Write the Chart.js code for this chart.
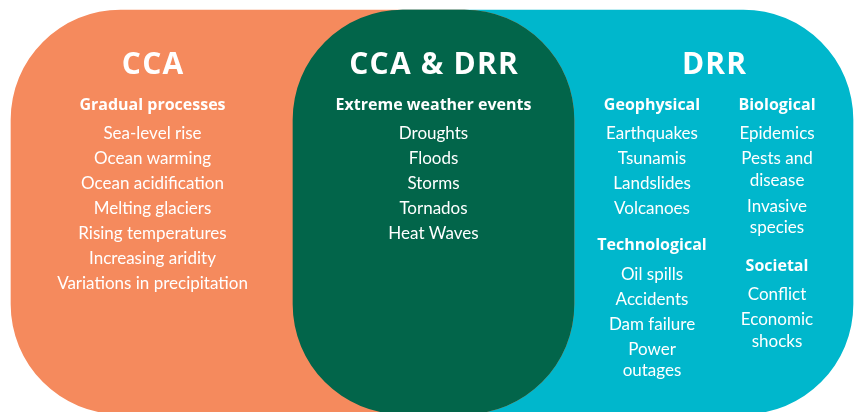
<!DOCTYPE html>
<html>
<head>
<meta charset="utf-8">
<script src="https://cdn.jsdelivr.net/npm/chart.js@4"></script>
<style>
    html, body { margin: 0; padding: 0; background: #ffffff; }
    #wrap { width: 854px; height: 412px; }
</style>
</head>
<body>
<div id="wrap"><canvas id="vennChart" width="854" height="412"></canvas></div>
<script>
// Regions of the diagram (x-extent of each rounded band)
const regions = ['CCA & DRR', 'CCA', 'DRR'];
const regionStart = [293, 11, 293];
const regionEnd = [574, 574, 853];

// Text content
const ccaHeading = 'Gradual processes';
const ccaItems = ['Sea-level rise', 'Ocean warming', 'Ocean acidification', 'Melting glaciers',
    'Rising temperatures', 'Increasing aridity', 'Variations in precipitation'];
const bothHeading = 'Extreme weather events';
const bothItems = ['Droughts', 'Floods', 'Storms', 'Tornados', 'Heat Waves'];
const geophysicalItems = ['Earthquakes', 'Tsunamis', 'Landslides', 'Volcanoes'];
const technologicalItems = ['Oil spills', 'Accidents', 'Dam failure', 'Power\noutages'];
const biologicalItems = ['Epidemics', 'Pests and\ndisease', 'Invasive\nspecies'];
const societalItems = ['Conflict', 'Economic\nshocks'];

// column centres on the x scale
const columns = [
    { title: 'CCA', x: 152.5, sections: [{ heading: ccaHeading, items: ccaItems }] },
    { title: 'CCA & DRR', x: 433.5, sections: [{ heading: bothHeading, items: bothItems }] },
    { title: 'DRR', x: 714, sections: [] },
    { x: 652, sections: [
        { heading: 'Geophysical', items: geophysicalItems },
        { heading: 'Technological', items: technologicalItems }] },
    { x: 777, sections: [
        { heading: 'Biological', items: biologicalItems },
        { heading: 'Societal', items: societalItems }] }
];

const BODY_FONT = 'Lato, sans-serif';
const HEAD_FONT = '"Open Sans", sans-serif';

const vennText = {
    id: 'vennText',
    afterDatasetsDraw(chart) {
        const ctx = chart.ctx;
        const xScale = chart.scales.x;
        ctx.save();
        ctx.fillStyle = '#ffffff';
        ctx.textAlign = 'center';
        ctx.textBaseline = 'alphabetic';
        columns.forEach(col => {
            const px = xScale.getPixelForValue(col.x);
            if (col.title) {
                ctx.font = 'bold 30px ' + HEAD_FONT;
                ctx.letterSpacing = '1.2px';
                ctx.fillText(col.title, px + 0.6, 74);
                ctx.letterSpacing = '0px';
            }
            let y = 110;
            col.sections.forEach((sec, si) => {
                if (si > 0) y += 36 - 25;
                ctx.font = 'bold 16px ' + HEAD_FONT;
                ctx.fillText(sec.heading, px, y);
                y += 29.3;
                ctx.font = '17px ' + BODY_FONT;
                sec.items.forEach(item => {
                    const lines = item.split('\n');
                    lines.forEach((line, li) => {
                        ctx.fillText(line, px, y + li * 21.3);
                    });
                    y += (lines.length - 1) * 21.3 + (lines.length > 1 ? 26.5 : 25);
                });
            });
        });
        ctx.restore();
    }
};

const radius = { topLeft: 110, topRight: 110, bottomLeft: 110, bottomRight: 110 };

new Chart(document.getElementById('vennChart'), {
    type: 'bar',
    data: {
        labels: [''],
        datasets: [
            { label: regions[0], data: [[regionStart[0], regionEnd[0]]], backgroundColor: '#02654A' },
            { label: regions[1], data: [[regionStart[1], regionEnd[1]]], backgroundColor: '#F58A5D' },
            { label: regions[2], data: [[regionStart[2], regionEnd[2]]], backgroundColor: '#00B7CC' }
        ].map(d => Object.assign(d, {
            barThickness: 404,
            borderRadius: radius,
            borderSkipped: false,
            borderWidth: 0,
            clip: false
        }))
    },
    options: {
        indexAxis: 'y',
        responsive: false,
        animation: false,
        layout: { padding: { top: 12, bottom: 0, left: 0, right: 0 } },
        datasets: { bar: { grouped: false } },
        scales: {
            x: { type: 'linear', min: 0, max: 854, display: false },
            y: { display: false }
        },
        plugins: {
            legend: { display: false },
            tooltip: { enabled: false }
        }
    },
    plugins: [vennText]
});
</script>
</body>
</html>
